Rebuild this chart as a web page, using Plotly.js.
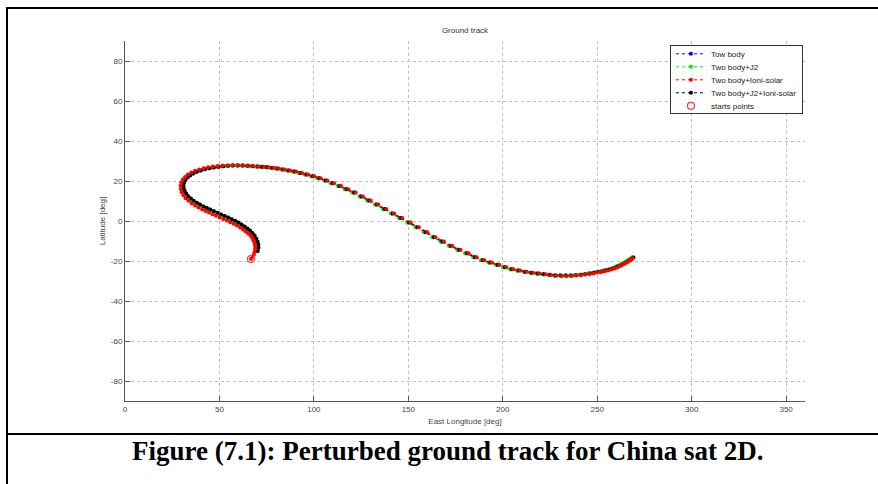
<!DOCTYPE html>
<html>
<head>
<meta charset="utf-8">
<script src="https://cdn.plot.ly/plotly-3.0.1.min.js"></script>
<style>
  html, body { margin: 0; padding: 0; background: #fff; }
  #wrap { position: relative; width: 878px; height: 484px; overflow: hidden; }
  #chart { position: absolute; left: 0; top: 0; width: 878px; height: 484px; }
  .rule { position: absolute; background: #000; }
</style>
</head>
<body>
<div id="wrap">
  <div id="chart"></div>
  <div class="rule" style="left:6px; top:7px; width:872px; height:2px;"></div>
  <div class="rule" style="left:6px; top:7px; width:2px; height:477px;"></div>
  <div class="rule" style="left:6px; top:433px; width:872px; height:2px;"></div>
</div>
<script>
// ---- data ----
const xTicks = [0, 50, 100, 150, 200, 250, 300, 350];
const yTicks = [-80, -60, -40, -20, 0, 20, 40, 60, 80];

// shared latitude samples for "Tow body", "Two body+J2", "Two body+J2+Ioni-solar"
const latTrack = [
  -15.0, -13.4, -11.8, -10.2, -8.7, -7.3, -6.0, -4.8, -3.7, -2.7, -1.7, -0.8, 0.1, 0.9, 1.7, 2.5, 3.3, 4.1, 4.9, 5.7,
  6.5, 7.3, 8.2, 9.1, 10.1, 11.2, 12.4, 13.7, 15.0, 16.4, 17.8, 19.2, 20.5, 21.7, 22.8, 23.8, 24.6, 25.3, 25.9, 26.4,
  26.8, 27.1, 27.4, 27.6, 27.7, 27.7, 27.7, 27.6, 27.4, 27.2,
  27.1, 26.9, 26.6, 26.2, 25.8, 25.3, 24.7, 24.0, 23.3, 22.4, 21.4, 20.2, 18.9, 17.5, 15.9, 14.2, 12.3, 10.3, 8.2, 6.0,
  3.8, 1.5, -0.8, -3.1, -5.6, -8.1, -10.3, -12.4, -14.4, -16.1, -18.1, -19.6, -20.8, -21.9, -23.1, -24.1, -24.8, -25.4,
  -25.9, -26.3, -26.6, -26.9, -27.2, -27.3, -27.3, -27.3, -27.1, -26.9, -26.6, -26.2, -25.9, -25.5, -25.2, -24.8, -24.4,
  -23.9, -23.4, -22.8, -22.2, -21.6, -21.0, -20.4, -19.8, -19.2, -18.7, -18.2
];

const lonTwoBody = [
  69.8, 70.2, 70.1, 69.7, 69.0, 68.1, 67.0, 65.7, 64.3, 62.8, 61.2, 59.5, 57.8, 56.0, 54.2, 52.3, 50.4, 48.5, 46.6, 44.7,
  42.9, 41.1, 39.3, 37.6, 35.9, 34.4, 33.0, 31.9, 31.1, 30.6, 30.5, 30.8, 31.5, 32.6, 34.0, 35.7, 37.6, 39.7, 41.9, 44.2,
  46.6, 49.1, 51.6, 54.2, 56.8, 59.4, 62.0, 64.6, 67.2, 69.7,
  72.1, 74.7, 77.4, 80.2, 83.2, 86.2, 89.3, 92.4, 95.6, 98.9, 102.3, 105.8, 109.4, 113.1, 116.9, 120.8, 124.7, 128.7,
  132.8, 137.0, 141.2, 145.5, 149.9, 154.3, 158.7, 163.1, 167.5, 171.9, 176.3, 180.6, 184.8, 188.9, 192.9, 196.8, 200.6,
  204.3, 207.9, 211.4, 214.8, 218.1, 221.3, 224.4, 227.4, 230.3, 233.1, 235.8, 238.4, 240.9, 243.3, 245.6, 247.8, 249.9,
  251.9, 253.8, 255.6, 257.3, 258.9, 260.4, 261.8, 263.1, 264.3, 265.4, 266.4, 267.3, 268.1, 268.7
];

const lonTwoBodyJ2 = [
  69.3, 69.7, 69.6, 69.2, 68.5, 67.6, 66.5, 65.2, 63.8, 62.3, 60.7, 59.0, 57.3, 55.5, 53.7, 51.8, 49.9, 48.0, 46.1, 44.2,
  42.4, 40.6, 38.8, 37.1, 35.4, 33.9, 32.5, 31.4, 30.6, 30.1, 30.0, 30.3, 31.0, 32.1, 33.5, 35.2, 37.1, 39.2, 41.4, 43.7,
  46.1, 48.6, 51.1, 53.7, 56.3, 58.9, 61.5, 64.1, 66.7, 69.2,
  71.6, 74.2, 76.9, 79.7, 82.7, 85.7, 88.8, 91.9, 95.1, 98.4, 101.8, 105.3, 108.9, 112.6, 116.4, 120.3, 124.2, 128.2,
  132.3, 136.5, 140.7, 145.0, 149.4, 153.8, 158.2, 162.6, 167.0, 171.4, 175.8, 180.1, 184.3, 188.4, 192.4, 196.3, 200.1,
  203.8, 207.4, 210.9, 214.3, 217.6, 220.8, 223.9, 226.9, 229.8, 232.6, 235.3, 237.9, 240.4, 242.8, 245.1, 247.3, 249.4,
  251.4, 253.3, 255.1, 256.8, 258.4, 259.9, 261.3, 262.6, 263.8, 264.9, 265.9, 266.8, 267.6, 268.2
];

const lonTwoBodyJ2Ioni = [
  70.3, 70.7, 70.6, 70.2, 69.5, 68.6, 67.5, 66.2, 64.8, 63.3, 61.7, 60.0, 58.3, 56.5, 54.7, 52.8, 50.9, 49.0, 47.1, 45.2,
  43.4, 41.6, 39.8, 38.1, 36.4, 34.9, 33.5, 32.4, 31.6, 31.1, 31.0, 31.3, 32.0, 33.1, 34.5, 36.2, 38.1, 40.2, 42.4, 44.7,
  47.1, 49.6, 52.1, 54.7, 57.3, 59.9, 62.5, 65.1, 67.7, 70.2,
  72.6, 75.2, 77.9, 80.7, 83.7, 86.7, 89.8, 92.9, 96.1, 99.4, 102.8, 106.3, 109.9, 113.6, 117.4, 121.3, 125.2, 129.2,
  133.3, 137.5, 141.7, 146.0, 150.4, 154.8, 159.2, 163.6, 168.0, 172.4, 176.8, 181.1, 185.3, 189.4, 193.4, 197.3, 201.1,
  204.8, 208.4, 211.9, 215.3, 218.6, 221.8, 224.9, 227.9, 230.8, 233.6, 236.3, 238.9, 241.4, 243.8, 246.1, 248.3, 250.4,
  252.4, 254.3, 256.1, 257.8, 259.4, 260.9, 262.3, 263.6, 264.8, 265.9, 266.9, 267.8, 268.6, 269.2
];

const lonTwoBodyIoni = [
  66.7, 67.5, 68.2,
  68.6, 68.9, 68.8, 68.5, 68.0, 67.3, 66.4, 65.2, 63.9, 62.5, 60.9, 59.2, 57.5, 55.7, 53.9, 52.0, 50.1, 48.2, 46.3, 44.4,
  42.6, 40.8, 38.9, 37.1, 35.3, 33.6, 32.1, 30.9, 30.0, 29.5, 29.4, 29.8, 30.6, 31.8, 33.3, 35.1, 37.1, 39.3, 41.6, 44.0,
  46.5, 49.1, 51.7, 54.4, 57.1, 59.7, 62.4, 65.1, 67.8, 70.5,
  73.4, 76.0, 78.7, 81.5, 84.5, 87.5, 90.6, 93.7, 96.9, 100.2, 103.6, 107.1, 110.7, 114.4, 118.2, 122.1, 126.0, 130.0,
  134.1, 138.3, 142.5, 146.8, 151.2, 155.6, 160.0, 164.4, 168.8, 173.2, 177.6, 181.9, 186.1, 190.2, 194.2, 198.1, 201.9,
  205.6, 209.2, 212.7, 216.1, 219.4, 222.6, 225.5, 228.4, 231.2, 233.9, 236.5, 239.0, 241.4, 243.7, 245.9, 248.0, 250.0,
  252.0, 253.9, 255.7, 257.4, 259.0, 260.5, 261.9, 263.2, 264.4, 265.5, 266.5, 267.4, 268.2, 268.8
];
const latTwoBodyIoni = [
  -19.0, -17.9, -16.7,
  -15.4, -13.9, -12.4, -10.9, -9.6, -8.4, -7.3, -6.2, -5.2, -4.2, -3.2, -2.3, -1.4, -0.6, 0.2, 1.0, 1.8, 2.6, 3.4, 4.2,
  5.0, 5.8, 6.8, 7.8, 8.9, 10.1, 11.4, 12.9, 14.4, 16.0, 17.6, 19.2, 20.7, 22.0, 23.2, 24.2, 25.1, 25.8, 26.4, 26.9,
  27.2, 27.5, 27.7, 27.8, 27.9, 27.9, 27.8, 27.7, 27.5, 27.3,
  27.1, 26.9, 26.6, 26.2, 25.8, 25.3, 24.7, 24.0, 23.3, 22.4, 21.4, 20.2, 18.9, 17.5, 15.9, 14.2, 12.3, 10.3, 8.2, 6.0,
  3.8, 1.5, -0.8, -3.1, -5.6, -8.1, -10.3, -12.4, -14.4, -16.1, -18.1, -19.6, -20.8, -21.9, -23.1, -24.1, -24.8, -25.4,
  -25.9, -26.3, -26.6, -27.0, -27.3, -27.5, -27.5, -27.5, -27.3, -27.1, -26.8, -26.5, -26.2, -25.8, -25.5, -25.1, -24.7,
  -24.2, -23.7, -23.2, -22.6, -22.0, -21.4, -20.8, -20.2, -19.6, -19.1, -18.6
];

const startLon = [66.7];
const startLat = [-19.0];

const seriesNames = ['Tow body', 'Two body+J2', 'Two body+Ioni-solar', 'Two body+J2+Ioni-solar', 'starts points'];
const seriesColors = ['#0000ff', '#00ee00', '#ff0000', '#000000', '#ff3333'];

function trackTrace(name, color, xs, ys, rank) {
  return {
    type: 'scatter', mode: 'lines+markers', name: name, x: xs, y: ys, legendrank: rank,
    line: { color: color, width: 1, dash: 'dot' },
    marker: { color: color, size: 4 },
    hoverinfo: 'skip'
  };
}

// drawing order: red on top (as in the reference), legend order kept with legendrank
const data = [
  trackTrace(seriesNames[0], seriesColors[0], lonTwoBody, latTrack, 1),
  trackTrace(seriesNames[1], seriesColors[1], lonTwoBodyJ2, latTrack, 2),
  trackTrace(seriesNames[3], seriesColors[3], lonTwoBodyJ2Ioni, latTrack, 4),
  trackTrace(seriesNames[2], seriesColors[2], lonTwoBodyIoni, latTwoBodyIoni, 3),
  {
    type: 'scatter', mode: 'markers', name: seriesNames[4], x: startLon, y: startLat, legendrank: 5,
    marker: { symbol: 'circle-open', size: 7, color: seriesColors[4], line: { width: 1.2, color: seriesColors[4] } },
    hoverinfo: 'skip'
  }
];

const axisCommon = {
  showgrid: true, gridcolor: '#bdbdbd', gridwidth: 1, griddash: 'dot',
  showline: true, linecolor: '#555', linewidth: 1,
  ticks: 'inside', ticklen: 5, tickcolor: '#555', tickwidth: 1,
  tickfont: { family: 'Liberation Sans, Arial, sans-serif', size: 8, color: '#444' },
  zeroline: false, mirror: false, automargin: false, fixedrange: true
};

const layout = {
  width: 878, height: 484,
  margin: { l: 125, r: 73, t: 41, b: 83, pad: 0 },
  paper_bgcolor: '#ffffff', plot_bgcolor: '#ffffff',
  font: { family: 'Liberation Sans, Arial, sans-serif', size: 8, color: '#333' },
  title: {
    text: 'Ground track', x: 0.5, xref: 'paper', xanchor: 'center',
    y: 1 - 30 / 484, yref: 'container', yanchor: 'middle',
    font: { family: 'Liberation Sans, Arial, sans-serif', size: 8, color: '#333' }
  },
  xaxis: Object.assign({}, axisCommon, {
    range: [0, 360], tickvals: xTicks, ticktext: xTicks.map(String),
    title: { text: 'East Longitude [deg]', standoff: 5, font: { size: 8, color: '#444' } }
  }),
  yaxis: Object.assign({}, axisCommon, {
    range: [-90, 90], tickvals: yTicks, ticktext: yTicks.map(String),
    title: { text: 'Latitude [deg]', standoff: 4, font: { size: 8, color: '#444' } }
  }),
  showlegend: true,
  legend: {
    x: 0.997, y: 0.988, xanchor: 'right', yanchor: 'top', traceorder: 'normal',
    bgcolor: '#ffffff', bordercolor: '#333', borderwidth: 1,
    font: { family: 'Liberation Sans, Arial, sans-serif', size: 8, color: '#222' },
    itemwidth: 30, tracegroupgap: 0
  },
  annotations: [{
    text: '<b>Figure (7.1): Perturbed ground track for China sat 2D.</b>',
    xref: 'paper', yref: 'paper', x: (447 - 125) / 680, y: (401 - 451) / 360,
    xanchor: 'center', yanchor: 'middle', showarrow: false,
    font: { family: 'Liberation Serif, Times New Roman, serif', size: 27, color: '#000' }
  }]
};

Plotly.newPlot('chart', data, layout, { staticPlot: true, displayModeBar: false }).then(function (gd) {
  // tighten the legend rows to the reference's compact spacing
  const leg = gd.querySelector('g.legend');
  if (!leg) return;
  const items = leg.querySelectorAll('g.traces');
  const rowGap = 13;
  let y0 = null;
  items.forEach(function (g, i) {
    const m = /translate\(\s*([-\d.eE]+)[ ,]+([-\d.eE]+)\s*\)/.exec(g.getAttribute('transform') || '');
    if (!m) return;
    if (y0 === null) y0 = parseFloat(m[2]) - 7;
    g.setAttribute('transform', 'translate(' + m[1] + ',' + (y0 + i * rowGap) + ')');
  });
  const bg = leg.querySelector('rect.bg');
  if (bg) bg.setAttribute('height', String(items.length * rowGap + 3));
});
</script>
</body>
</html>
